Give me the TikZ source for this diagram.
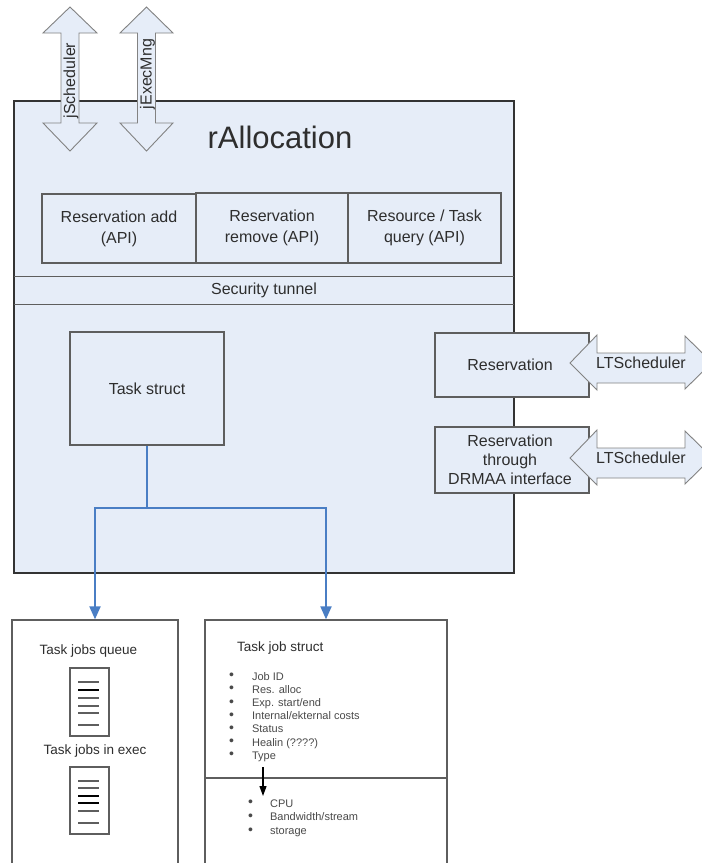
\documentclass[tikz,border=0pt]{standalone}
\usepackage{fontspec}
\setmainfont{Liberation Sans}
\usetikzlibrary{arrows.meta}

\definecolor{panel}{HTML}{E6EDF8}
\definecolor{mainline}{HTML}{333333}
\definecolor{boxline}{HTML}{5E5E5E}
\definecolor{arrowline}{HTML}{828282}
\definecolor{linkblue}{HTML}{4A7EC4}
\definecolor{ink}{HTML}{2E2E2E}
\definecolor{listink}{HTML}{4A4A4A}

\newcommand\fsz[2]{\fontsize{#1}{#2}\selectfont}
\newcommand\dotmark{\raisebox{0.3pt}{\fontsize{14}{14}\selectfont\textbullet}}

\tikzset{
  mainbox/.style={draw=mainline, line width=1.9pt, fill=panel, inner sep=0pt},
  innerbox/.style={draw=boxline, line width=1.2pt, fill=panel, align=center,
    text=ink, font=\fsz{16}{21}, inner sep=0pt},
  plainbox/.style={draw=boxline, line width=1.3pt, fill=white, inner sep=0pt},
  fatarrow/.style={draw=arrowline, line width=0.9pt, fill=panel, line join=miter},
  lbl/.style={text=ink, font=\fsz{16}{19}, inner sep=0pt},
  small/.style={text=ink, font=\fsz{13.5}{16}, inner sep=0pt},
  link/.style={draw=linkblue, line width=2pt, -{Triangle[width=11pt,length=13pt]}},
  linkline/.style={draw=linkblue, line width=2pt},
  docicon/.style={draw=boxline, line width=1.2pt, fill=white, inner sep=0pt,
    minimum width=39pt},
  docline/.style={draw=boxline, line width=1.1pt},
}

\begin{document}
\begin{tikzpicture}[x=1pt,y=-1pt]
\useasboundingbox (0,0) rectangle (702,863);
\clip (0,0) rectangle (702,863);

% ---------- rAllocation component ----------
\node[mainbox, minimum width=500pt, minimum height=472pt] (main) at (264,337) {};
\node[font=\fsz{31}{36}, text=ink, anchor=base, inner sep=0pt] (title) at (280,148) {rAllocation};

% API blocks
\node[innerbox, minimum width=154pt, minimum height=69pt] (apiadd) at (119,228.5)
  {Reservation add\\(API)};
\node[innerbox, minimum width=152pt, minimum height=70pt] (apirem) at (272,228)
  {Reservation\\remove (API)};
\node[innerbox, minimum width=153pt, minimum height=70pt] (apiqry) at (424.5,228)
  {Resource / Task\\query (API)};

% security tunnel band
\node[lbl, minimum width=500pt, minimum height=27pt] (band) at (264,290.5) {Security tunnel};
\draw[boxline, line width=1.2pt] (band.north west) -- (band.north east);
\draw[boxline, line width=1.2pt] (band.south west) -- (band.south east);

% task struct
\node[innerbox, minimum width=154pt, minimum height=113pt] (task) at (147,388.5) {Task struct};

% reservation interfaces
\node[innerbox, minimum width=154pt, minimum height=64pt] (resv) at (512,365)
  {\hspace*{-4pt}Reservation};
\node[innerbox, font=\fsz{16}{19}, minimum width=154pt, minimum height=66pt] (drmaa) at (512,460)
  {\hspace*{-4pt}Reservation\\\hspace*{-4pt}through\\\hspace*{-4pt}DRMAA interface};

% ---------- external interfaces (double arrows) ----------
\draw[fatarrow] (70,7) -- (97,33) -- (79,33) -- (79,123) -- (97,123) -- (70,151)
  -- (43,123) -- (61,123) -- (61,33) -- (43,33) -- cycle;
\node[lbl, rotate=90, anchor=base] (jsched) at (75,80.5) {jScheduler};

\draw[fatarrow] (146.5,7) -- (173,33) -- (155.5,33) -- (155.5,123) -- (173,123) -- (146.5,151)
  -- (120,123) -- (137.5,123) -- (137.5,33) -- (120,33) -- cycle;
\node[lbl, rotate=90, anchor=base] (jexec) at (151.5,74) {jExecMng};

\draw[fatarrow] (570,363) -- (597,335) -- (597,353) -- (685,353) -- (685,336) -- (712,362.5)
  -- (685,389) -- (685,383) -- (597,383) -- (597,390) -- cycle;
\node[lbl, anchor=base] (lts1) at (641,368.5) {LTScheduler};

\draw[fatarrow] (570,458) -- (597,430) -- (597,448) -- (685,448) -- (685,431) -- (712,457.5)
  -- (685,484) -- (685,478) -- (597,478) -- (597,485) -- cycle;
\node[lbl, anchor=base] (lts2) at (641,463) {LTScheduler};

% ---------- lower structures ----------
\node[plainbox, minimum width=166pt, minimum height=260pt] (queuebox) at (95,750) {};
\node[plainbox, minimum width=242pt, minimum height=260pt] (jobbox) at (326,750) {};
\draw[boxline, line width=1.2pt] (205,778) -- (447,778);

% blue links from task struct
\coordinate (split) at (147,508);
\draw[linkline] (task.south) -- (split);
\draw[link] (split) -| (queuebox.north);
\draw[link] (split) -| (jobbox.north);

% queue contents
\node[small] (qlabel) at (88.5,651) {Task jobs queue};
\node[docicon, minimum height=68pt] (docA) at (89.5,702) {};
\foreach \yy/\cc in {682/boxline,690/black,698/boxline,706/boxline,713/boxline,725/boxline}
  \draw[docline, draw=\cc] (78,\yy) -- (99,\yy);
\node[small] (elabel) at (95,751) {Task jobs in exec};
\node[docicon, minimum height=67pt] (docB) at (89.5,800.5) {};
\foreach \yy/\cc in {781/boxline,788/boxline,796/black,803/black,811/boxline,823/boxline}
  \draw[docline, draw=\cc] (78,\yy) -- (99,\yy);

% task job struct contents
\node[small, anchor=base west] (jlabel) at (237,651) {Task job struct};
\node[anchor=base west, inner sep=0pt, text=listink, font=\fsz{11}{13.2}] (fields) at (229,680)
  {\begin{tabular}[t]{@{}l@{\hspace{18pt}}l@{}}
   \dotmark & Job ID\\
   \dotmark & Res. alloc\\
   \dotmark & Exp. start/end\\
   \dotmark & Internal/ekternal costs\\
   \dotmark & Status\\
   \dotmark & Healin (????)\\
   \dotmark & Type
   \end{tabular}};
\node[anchor=base west, inner sep=0pt, text=listink, font=\fsz{11}{13.9}] (types) at (248,807)
  {\begin{tabular}[t]{@{}l@{\hspace{17pt}}l@{}}
   \dotmark & CPU\\
   \dotmark & Bandwidth/stream\\
   \dotmark & storage
   \end{tabular}};
\coordinate (typefrom) at (263,767);
\coordinate (typeto) at (263,796);
\draw[black, line width=1.2pt, -{Triangle[width=7pt,length=10pt]}] (typefrom) -- (typeto);

\end{tikzpicture}
\end{document}
